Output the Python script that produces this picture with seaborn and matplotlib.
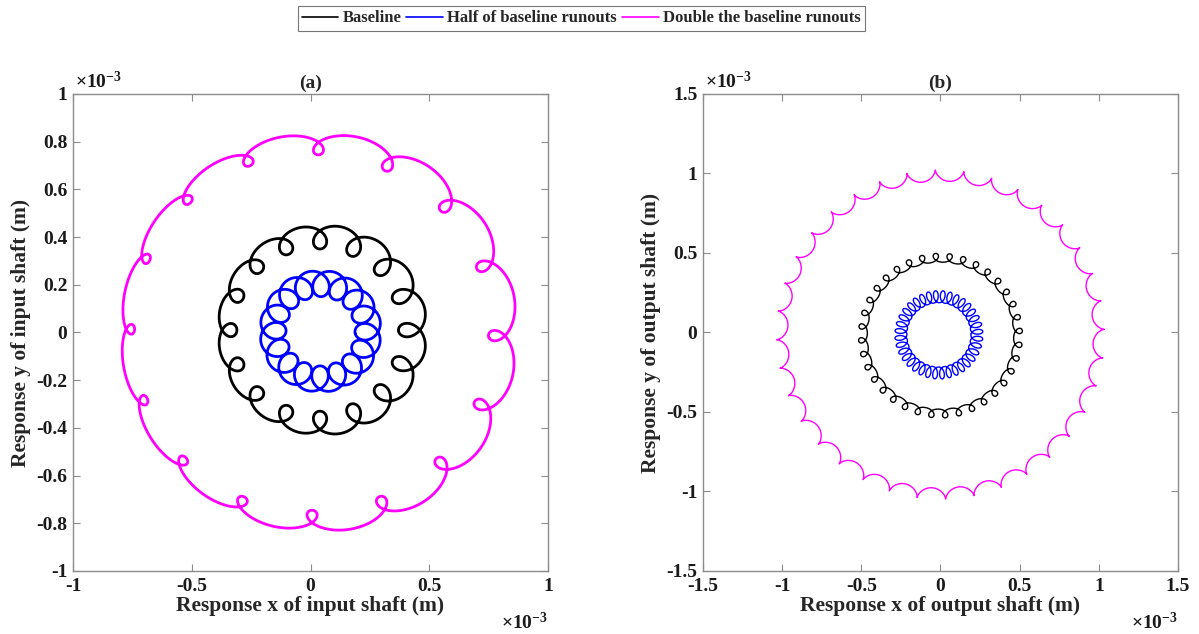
import numpy as np
import pandas as pd
import matplotlib
matplotlib.use("Agg")
import matplotlib.pyplot as plt
import seaborn as sns
from matplotlib.lines import Line2D

# ---------------- data (units: m) ----------------
series_labels = ["Baseline", "Half of baseline runouts", "Double the baseline runouts"]
series_colors = ["#000000", "#0000ff", "#ff00ff"]

# panel (a): input shaft orbits (16 mesh loops per revolution)
a_loops = 16
a_center_x = [0.040e-3, 0.042e-3, 0.020e-3]
a_center_y = [0.010e-3, 0.005e-3, 0.000e-3]
a_ring_radius = [0.39e-3, 0.20e-3, 0.79e-3]
a_radial_amp = [0.050e-3, 0.055e-3, 0.045e-3]
a_radial_mod = [0.2, 0.0, 0.35]
a_tangential_amp = [0.060e-3, 0.052e-3, 0.082e-3]
a_phase_deg = [180, 190, 196]

# panel (b): output shaft orbits (36 mesh loops per revolution)
b_loops = 36
b_center_x = [0.000e-3, -0.010e-3, 0.000e-3]
b_center_y = [-0.020e-3, -0.015e-3, -0.013e-3]
b_ring_radius = [0.49e-3, 0.24e-3, 1.00e-3]
b_radial_amp = [0.028e-3, 0.038e-3, 0.035e-3]
b_radial_mod = [0.0, 0.0, 0.0]
b_tangential_amp = [-0.036e-3, -0.025e-3, -0.029e-3]
b_phase_deg = [238, 200, 295]

a_xticks = [-1e-3, -0.5e-3, 0, 0.5e-3, 1e-3]
a_xticklabels = ["-1", "-0.5", "0", "0.5", "1"]
a_yticks = [-1e-3, -0.8e-3, -0.6e-3, -0.4e-3, -0.2e-3, 0, 0.2e-3, 0.4e-3, 0.6e-3, 0.8e-3, 1e-3]
a_yticklabels = ["-1", "-0.8", "-0.6", "-0.4", "-0.2", "0", "0.2", "0.4", "0.6", "0.8", "1"]
b_ticks = [-1.5e-3, -1e-3, -0.5e-3, 0, 0.5e-3, 1e-3, 1.5e-3]
b_ticklabels = ["-1.5", "-1", "-0.5", "0", "0.5", "1", "1.5"]


def orbit(cx, cy, R, a, mod, b, n, phase_deg, npts=8000):
    t = np.linspace(0, 2 * np.pi, npts)
    ph = n * t + np.deg2rad(phase_deg)
    r = R + a * (1 + mod * np.cos(t)) * np.cos(ph)
    s = b * np.sin(ph)
    x = cx + r * np.cos(t) - s * np.sin(t)
    y = cy + r * np.sin(t) + s * np.cos(t)
    return pd.DataFrame({"x": x, "y": y})


# ---------------- style ----------------
sns.set_theme(style="white")
plt.rcParams["font.family"] = ["Liberation Serif", "DejaVu Serif"]
plt.rcParams["font.weight"] = "bold"
plt.rcParams["mathtext.fontset"] = "custom"
plt.rcParams["mathtext.rm"] = "Liberation Serif"
plt.rcParams["mathtext.it"] = "Liberation Serif"
plt.rcParams["mathtext.bf"] = "Liberation Serif:bold"

fig = plt.figure(figsize=(11.99, 6.34), dpi=100)
axA = fig.add_axes([0.0609, 0.0994, 0.3962, 0.7524])
axB = fig.add_axes([0.5863, 0.0994, 0.3962, 0.7524])

spine_col = "#8c8c8c"
tick_fs = 14
label_fs = 15.5

for i in range(3):
    d = orbit(a_center_x[i], a_center_y[i], a_ring_radius[i], a_radial_amp[i],
              a_radial_mod[i], a_tangential_amp[i], a_loops, a_phase_deg[i])
    sns.lineplot(data=d, x="x", y="y", sort=False, estimator=None,
                 color=series_colors[i], lw=2.0, ax=axA)
for i in range(3):
    d = orbit(b_center_x[i], b_center_y[i], b_ring_radius[i], b_radial_amp[i],
              b_radial_mod[i], b_tangential_amp[i], b_loops, b_phase_deg[i])
    sns.lineplot(data=d, x="x", y="y", sort=False, estimator=None,
                 color=series_colors[i], lw=1.0, ax=axB)


def style_axis(ax, xt, xtl, yt, ytl, lim, title, xl, yl):
    ax.set_xlim(lim)
    ax.set_ylim(lim)
    ax.set_xticks(xt)
    ax.set_xticklabels(xtl)
    ax.set_yticks(yt)
    ax.set_yticklabels(ytl)
    for sp in ax.spines.values():
        sp.set_visible(True)
        sp.set_color(spine_col)
        sp.set_linewidth(1.0)
    ax.tick_params(direction="in", length=5, width=0.8, color=spine_col,
                   top=True, right=True, bottom=True, left=True,
                   labelsize=tick_fs, labelcolor="#1a1a1a")
    ax.tick_params(axis="x", pad=5)
    ax.tick_params(axis="y", pad=4)
    for lab in ax.get_xticklabels() + ax.get_yticklabels():
        lab.set_fontweight("bold")
    ax.set_title(title, fontsize=tick_fs, fontweight="bold", pad=4)
    ax.set_xlabel(xl, fontsize=label_fs, fontweight="bold", labelpad=1)
    ax.set_ylabel(yl, fontsize=label_fs, fontweight="bold", labelpad=4)
    ax.text(0.005, 1.004, r"$\times 10^{-3}$", transform=ax.transAxes,
            fontsize=tick_fs, ha="left", va="bottom", color="#1a1a1a")
    ax.text(1.0, -0.085, r"$\times 10^{-3}$", transform=ax.transAxes,
            fontsize=tick_fs, ha="right", va="top", color="#1a1a1a")


style_axis(axA, a_xticks, a_xticklabels, a_yticks, a_yticklabels, (-1e-3, 1e-3), "(a)",
           "Response x of input shaft (m)", "Response y of input shaft (m)")
style_axis(axB, b_ticks, b_ticklabels, b_ticks, b_ticklabels, (-1.5e-3, 1.5e-3), "(b)",
           "Response x of output shaft (m)", "Response y of output shaft (m)")

handles = [Line2D([0], [0], color=c, lw=1.2) for c in series_colors]
leg = fig.legend(handles, series_labels, loc="center", bbox_to_anchor=(0.4846, 0.971),
                 ncol=3, frameon=True, fancybox=False, edgecolor="#555555",
                 handlelength=2.2, handletextpad=0.25, columnspacing=0.3,
                 borderpad=0.25, borderaxespad=0.0,
                 prop={"weight": "bold", "size": 12})
leg.get_frame().set_linewidth(0.8)

fig.savefig("out.png", dpi=100)
